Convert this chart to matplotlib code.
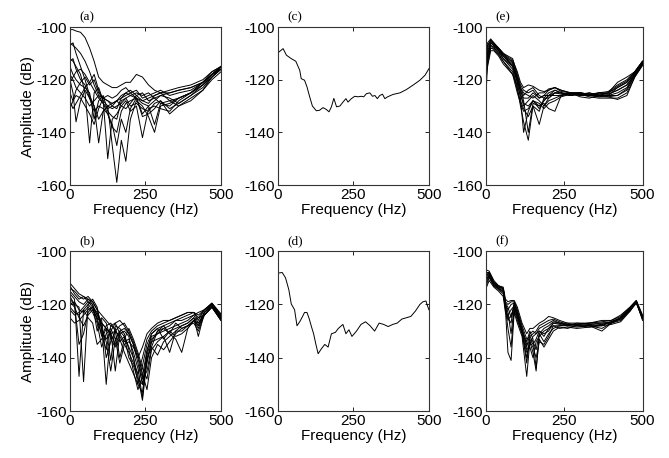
import matplotlib
matplotlib.use("Agg")
import matplotlib.pyplot as plt

plt.rcParams['font.family'] = ['Liberation Sans', 'DejaVu Sans']
plt.rcParams['axes.unicode_minus'] = False

# (a) spectra, many records
freq_a = [0, 10, 20, 35, 50, 65, 80, 95, 110, 125, 140, 155, 170, 185, 200, 220, 240, 260, 280, 300, 330, 360, 400, 440, 470, 500]
amp_a = [
    [-101, -101, -101.5, -102, -104, -108, -113, -119, -121, -122, -123, -123, -122, -121, -121, -118, -119, -122, -124, -125, -125, -124, -123, -121, -118, -115],
    [-106, -107, -108, -110, -113, -117, -122, -126, -127, -128, -130, -131, -127, -125, -124, -126, -128, -127, -126, -125, -124, -123, -122, -120, -117, -115],
    [-107, -106, -110, -115, -120, -126, -130, -135, -132, -130, -129, -128, -126, -125, -126, -127, -129, -130, -128, -126, -125, -124, -123, -121, -118, -115],
    [-112, -113, -115, -118, -125, -144, -125, -123, -128, -150, -135, -133, -130, -128, -132, -130, -142, -131, -130, -131, -132, -128, -125, -122, -119, -116],
    [-113, -112, -116, -120, -122, -127, -130, -144, -132, -130, -145, -159, -143, -151, -135, -128, -130, -134, -140, -130, -129, -127, -125, -121, -118, -116],
    [-115, -118, -120, -122, -123, -125, -135, -128, -126, -132, -134, -135, -128, -127, -130, -129, -131, -132, -129, -128, -133, -130, -127, -124, -119, -116],
    [-120, -125, -136, -128, -124, -127, -132, -130, -131, -133, -138, -140, -132, -129, -128, -127, -133, -130, -137, -129, -128, -127, -125, -122, -119, -115],
    [-118, -120, -123, -125, -127, -130, -128, -126, -129, -131, -130, -128, -130, -131, -129, -126, -125, -128, -127, -126, -127, -129, -126, -122, -118, -115],
    [-125, -128, -124, -121, -119, -122, -120, -125, -127, -128, -129, -128, -127, -126, -125, -124, -127, -126, -125, -124, -126, -125, -124, -121, -118, -116],
    [-128, -131, -129, -126, -123, -121, -118, -124, -128, -130, -131, -130, -129, -127, -126, -125, -126, -125, -127, -129, -130, -127, -125, -121, -117, -115],
    [-121, -119, -117, -116, -118, -121, -124, -127, -129, -133, -137, -145, -135, -140, -131, -127, -134, -133, -131, -128, -131, -129, -126, -123, -119, -116],
    [-131, -128, -126, -127, -130, -133, -137, -131, -127, -126, -127, -126, -124, -123, -125, -127, -128, -129, -126, -125, -128, -130, -128, -124, -120, -117],
]

# (b) spectra, many records
freq_b = [0, 15, 30, 45, 60, 75, 90, 105, 120, 135, 150, 165, 180, 195, 210, 225, 240, 255, 270, 290, 310, 330, 350, 370, 390, 410, 425, 445, 470, 500]
amp_b = [
    [-112, -114, -116, -117, -118, -120, -124, -127, -129, -131, -130, -132, -135, -138, -142, -146, -140, -133, -130, -128, -127, -126, -125, -124, -123, -123, -124, -122, -119.5, -124],
    [-113, -116, -118, -117, -119, -121, -126, -131, -137, -128, -129, -134, -132, -136, -140, -150, -143, -135, -131, -129, -128, -127, -126, -125, -124, -123, -126, -122, -120, -125],
    [-115, -117, -119, -120, -118, -119, -122, -128, -150, -130, -127, -131, -134, -133, -138, -144, -155, -139, -133, -131, -129, -128, -126, -126, -125, -124, -123, -122, -120, -124],
    [-116, -118, -147, -122, -120, -122, -125, -127, -129, -141, -128, -129, -131, -137, -145, -152, -147, -137, -132, -131, -130, -129, -128, -127, -126, -124, -127, -123, -120.5, -125.5],
    [-118, -120, -121, -149, -120, -118, -121, -130, -133, -130, -145, -131, -130, -132, -140, -147, -156, -141, -134, -133, -132, -130, -129, -128, -127, -125, -132, -123, -121, -126],
    [-120, -119, -122, -123, -121, -123, -127, -136, -131, -129, -133, -142, -135, -134, -136, -140, -148, -145, -136, -130, -128, -131, -127, -129, -128, -126, -125, -124, -121, -125],
    [-122, -124, -123, -121, -119, -120, -130, -125, -127, -133, -136, -130, -129, -131, -135, -142, -150, -138, -131, -129, -133, -130, -132, -131, -129, -126, -128, -123, -120, -124.5],
    [-125, -127, -126, -124, -122, -121, -124, -126, -140, -134, -130, -128, -127, -130, -134, -139, -146, -152, -140, -135, -137, -134, -131, -129, -128, -126, -127, -124, -121, -126],
    [-114, -115, -117, -118, -117, -119, -122, -124, -126, -128, -127, -126, -128, -131, -135, -140, -136, -131, -129, -127, -126, -126, -125, -124, -123, -123, -125, -122, -119.5, -123.5],
    [-119, -121, -125, -128, -124, -122, -125, -132, -128, -127, -130, -140, -133, -129, -133, -138, -144, -148, -137, -134, -132, -138, -130, -128, -127, -125, -128, -124, -121, -125],
    [-117, -120, -135, -131, -123, -121, -123, -129, -134, -145, -133, -130, -132, -140, -143, -148, -150, -142, -134, -130, -129, -131, -133, -138, -129, -126, -129, -123, -120, -125],
    [-121, -123, -124, -122, -125, -127, -135, -133, -129, -131, -135, -133, -138, -142, -146, -150, -153, -140, -136, -139, -134, -132, -130, -130, -128, -127, -130, -124, -121, -126],
]

# (c) single spectrum
freq_c = [3, 17, 28, 44, 59, 72, 77, 88, 96, 105, 114, 127, 138, 149, 160, 169, 177, 185, 194, 205, 216, 225, 232, 243, 254, 265, 276, 284, 293, 304, 313, 321, 329, 337, 346, 354, 363, 381, 404, 426, 448, 470, 487, 500]
amp_c = [-109.5, -108.2, -110.7, -112, -113, -116.4, -119.6, -120.2, -122.7, -126.5, -130, -131.8, -131.6, -130.6, -131.3, -132.2, -130.3, -127.1, -130.3, -130, -128.4, -127.2, -128.5, -127.2, -126.3, -126.5, -126.3, -126.5, -125.3, -125, -126.3, -126, -127.2, -126, -125.5, -127.2, -126.5, -125.6, -125, -123.7, -122, -120.2, -118.3, -115.8]

# (d) single spectrum
freq_d = [3, 14, 25, 36, 44, 55, 63, 72, 81, 88, 96, 103, 111, 118, 125, 133, 144, 155, 166, 177, 190, 200, 215, 225, 235, 245, 260, 275, 290, 305, 320, 335, 350, 365, 380, 395, 410, 425, 440, 455, 470, 480, 490, 495, 500]
amp_d = [-108.2, -108, -110, -114.5, -119.8, -122, -128, -126.5, -124.6, -123, -123, -125.2, -128.4, -131, -134.7, -138.5, -136.6, -135, -136, -131, -130.5, -129, -127.5, -131, -129.5, -132, -130, -127.5, -126.5, -128, -130, -127, -127.5, -128.3, -127.5, -127, -125.5, -125, -124.5, -122.5, -120, -119, -118.7, -120.5, -122]

# (e) spectra, many records
freq_e = [0, 5, 15, 25, 40, 55, 70, 85, 100, 110, 120, 135, 150, 170, 185, 200, 220, 240, 270, 300, 330, 360, 390, 420, 450, 475, 500]
amp_e = [
    [-108, -106, -104.5, -106, -108, -110, -111, -112, -118, -122, -124, -125, -124, -127, -126, -124, -123, -124, -125, -125, -126, -126, -125, -121, -119, -117, -113],
    [-110, -107, -105, -106.5, -108, -110, -112, -113, -119, -123, -126, -124, -123, -126, -127, -125, -124, -125, -125.5, -125, -126, -125, -124.5, -122, -120, -117, -113],
    [-112, -109, -106, -107, -108.5, -111, -112.5, -114, -120, -125, -130, -128, -126, -128, -130, -127, -125, -125, -126, -125.5, -125, -126, -126, -123, -121, -117.5, -113.5],
    [-126, -113, -106, -107, -109, -111, -113, -115, -121, -127, -140, -132, -128, -131, -128, -126, -126, -126, -125, -126, -126, -125, -125.5, -124, -122, -118, -114],
    [-114, -110, -107, -108, -109.5, -112, -114, -116, -123, -130, -136, -143, -130, -132, -127, -127, -125, -125.5, -126, -125, -125.5, -126.5, -126, -125, -123, -118, -114],
    [-117, -112, -108, -108, -110, -113, -115, -117, -124, -128, -131, -134, -130, -137, -130, -128, -127, -126, -125, -126.5, -127, -126, -126.5, -126, -124, -118.5, -114],
    [-120, -115, -109, -109, -111, -114, -116, -118, -122, -126, -129, -130, -128, -129, -131, -129, -128, -126.5, -125.5, -125.5, -126.5, -127, -127, -127, -125, -119, -114.5],
    [-109, -107, -105, -106, -108, -110, -111.5, -112.5, -117, -121, -123, -122, -122.5, -124, -124.5, -124, -123, -124.5, -125, -125, -125.5, -125.5, -125, -122.5, -120.5, -117, -113],
    [-115, -111, -107, -107.5, -109, -112, -113.5, -115, -121, -124, -127, -127, -125, -127, -126, -126, -125, -125, -126, -125, -126, -125.5, -125.5, -124, -122, -118, -113.5],
    [-113, -110, -106, -107, -108.5, -111, -113, -114.5, -120, -124, -128, -140, -129, -130, -129, -131, -132, -126, -125.5, -126, -125, -126, -126, -126, -123.5, -118, -114],
    [-118, -114, -108, -108.5, -110.5, -113, -115.5, -118, -125, -129, -132, -131, -128, -130, -128, -126, -124, -125, -126, -125.5, -126, -126.5, -126.5, -127.5, -126, -119, -114.5],
    [-111, -108, -105.5, -106.5, -108, -110.5, -112, -113.5, -119, -123, -125, -126, -127, -125, -125, -123.5, -123, -124, -125, -125, -125.5, -125, -125, -123, -121, -117.5, -113],
]

# (f) spectra, many records
freq_f = [0, 10, 25, 40, 55, 62, 70, 80, 90, 100, 115, 130, 140, 150, 160, 170, 185, 200, 215, 235, 260, 290, 330, 370, 400, 430, 460, 480, 500]
amp_f = [
    [-107, -107.5, -111, -113, -113.5, -118, -119, -118.5, -118.5, -121, -127, -131, -129, -129, -128, -127, -126, -124.5, -125, -126, -127, -127, -127, -126, -126, -124, -121, -118.5, -124],
    [-109, -108, -112, -113.5, -114, -120, -122, -120, -119.5, -123, -129, -136, -131, -130, -131, -129, -128, -127, -126, -127, -127.5, -128, -127.5, -127, -126.5, -125, -121.5, -119, -125],
    [-111, -109, -112.5, -114, -115, -121, -126, -124, -121, -125, -131, -140, -133, -135, -133, -130, -132, -129, -127, -127, -128, -127.5, -128, -129, -127, -125.5, -122, -119, -125],
    [-113, -110, -113, -114.5, -116, -122, -138, -141, -123, -127, -132, -147, -134, -138, -145, -131, -134, -131, -129, -128, -128, -128.5, -128, -130, -127, -126, -122.5, -119.5, -125.5],
    [-110, -108.5, -112, -113.5, -114.5, -119.5, -121, -125, -120, -124, -130, -134, -130, -133, -144, -133, -136, -133, -130, -128.5, -129, -128, -128.5, -128, -127.5, -126.5, -122.5, -119, -126],
    [-108, -108, -111.5, -113, -114, -119, -120, -119, -119, -122, -128, -133, -132, -131, -130, -128, -127, -126, -125.5, -126.5, -127.5, -127.5, -127, -126.5, -126, -124.5, -121, -118.5, -124.5],
    [-112, -109.5, -113, -114, -115.5, -121.5, -129, -136, -122, -126, -131, -138, -136, -140, -134, -132, -130, -129, -128, -129, -128.5, -129, -128.5, -127.5, -127, -125, -122, -119.5, -125],
    [-114, -111, -113.5, -115, -117, -123, -124, -122, -120.5, -124, -130, -137, -135, -132, -131, -130, -131, -130, -127, -127.5, -128, -127, -127.5, -128, -126.5, -125, -121.5, -119, -125.5],
    [-109.5, -108, -112, -113, -114, -120, -123, -131, -121, -124.5, -130, -142, -132, -134, -137, -131, -129, -128, -126.5, -127, -127, -128, -128, -127.5, -126.5, -125.5, -122, -119, -124.5],
    [-111, -109, -112.5, -114, -115, -120.5, -125, -127, -119, -123, -129, -135, -134, -136, -140, -134, -135, -132, -128, -128, -127.5, -127.5, -127, -127, -127, -125, -121.5, -119, -125],
]

fig = plt.figure(figsize=(6.69, 4.58), dpi=100)

# [left, bottom, width, height] for each panel
boxes = {
    'a': [0.1046, 0.596, 0.2257, 0.345],
    'c': [0.4155, 0.596, 0.2257, 0.345],
    'e': [0.7265, 0.596, 0.2340, 0.345],
    'b': [0.1046, 0.1026, 0.2257, 0.349],
    'd': [0.4155, 0.1026, 0.2257, 0.349],
    'f': [0.7265, 0.1026, 0.2340, 0.349],
}

panels = {
    'a': (freq_a, amp_a),
    'b': (freq_b, amp_b),
    'c': (freq_c, [amp_c]),
    'd': (freq_d, [amp_d]),
    'e': (freq_e, amp_e),
    'f': (freq_f, amp_f),
}

for key, box in boxes.items():
    ax = fig.add_axes(box)
    f, rows = panels[key]
    for row in rows:
        ax.plot(f, row, color='black', lw=0.7)
    ax.set_xlim(0, 500)
    ax.set_ylim(-160, -100)
    ax.set_xticks([0, 250, 500])
    ax.set_yticks([-160, -140, -120, -100])
    ax.tick_params(direction='in', length=3, width=0.6, top=True, right=True,
                   labelsize=11, pad=2, colors='black')
    for s in ax.spines.values():
        s.set_linewidth(0.8)
        s.set_color('#333333')
    ax.set_xlabel('Frequency (Hz)', fontsize=11, labelpad=1)
    if key in ('a', 'b'):
        ax.set_ylabel('Amplitude (dB)', fontsize=11, labelpad=1)
    ax.text(0.06, 1.025, '(%s)' % key, transform=ax.transAxes, va='bottom',
            ha='left', fontsize=9.5, family=['Liberation Serif', 'DejaVu Serif'])

fig.savefig('out.png', dpi=100)
